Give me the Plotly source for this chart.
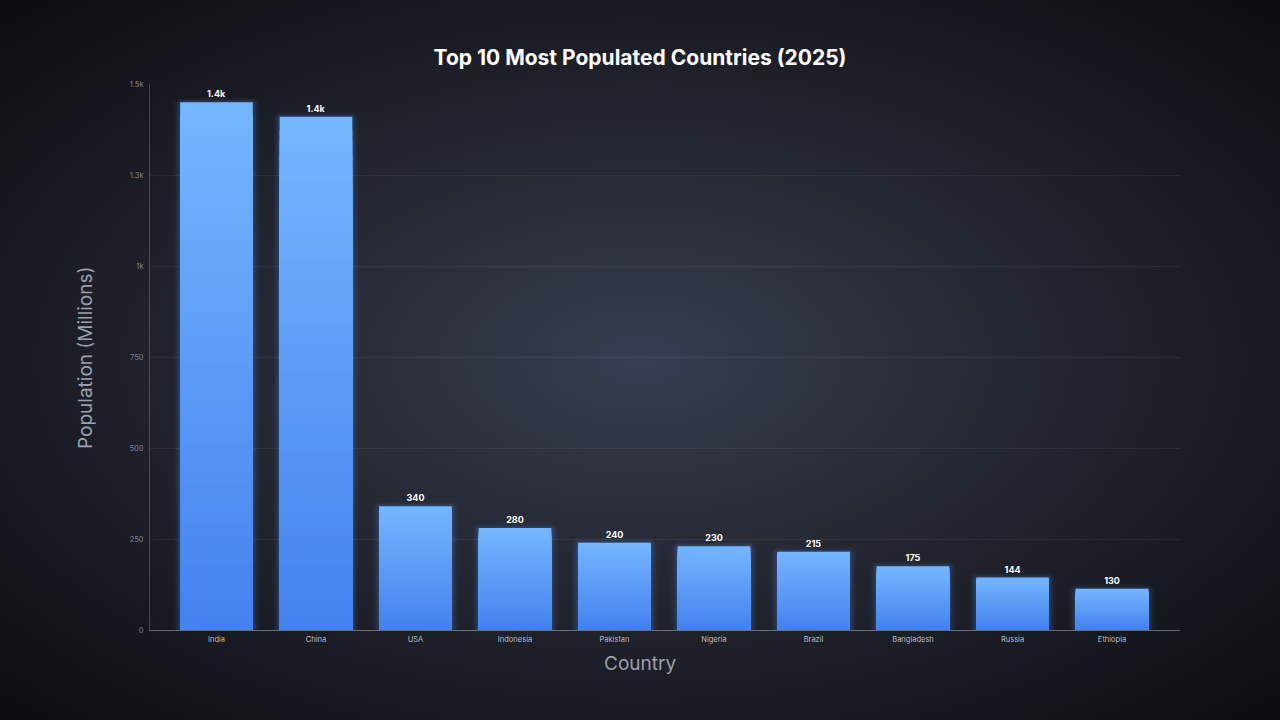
import base64
import plotly.graph_objects as go

countries = ["India", "China", "USA", "Indonesia", "Pakistan", "Nigeria",
             "Brazil", "Bangladesh", "Russia", "Ethiopia"]
population = [1450, 1410, 340, 280, 240, 230, 215, 175, 144, 113]
value_labels = ["1.4k", "1.4k", "340", "280", "240", "230", "215", "175", "144", "130"]
y_tick_vals = [0, 250, 500, 750, 1000, 1250, 1500]
y_tick_text = ["0", "250", "500", "750", "1k", "1.3k", "1.5k"]

W, H = 1280, 720
ML, MR, MT, MB = 150, 100, 84, 90
PW, PH = W - ML - MR, H - MT - MB

svg = f"""<svg xmlns='http://www.w3.org/2000/svg' width='{W}' height='{H}'>
<defs><radialGradient id='g' cx='50%' cy='50%' r='75%' gradientUnits='objectBoundingBox'>
<stop offset='0' stop-color='#383e50'/><stop offset='0.45' stop-color='#22252f'/>
<stop offset='1' stop-color='#090a0e'/></radialGradient></defs>
<rect width='{W}' height='{H}' fill='url(#g)'/></svg>"""
bg_src = "data:image/svg+xml;base64," + base64.b64encode(svg.encode()).decode()

fig = go.Figure()

# glow layers
for w, extra, a in [(0.87, 13, 0.035), (0.83, 9, 0.05), (0.80, 6, 0.07), (0.765, 2.5, 0.11)]:
    fig.add_trace(go.Bar(
        x=countries, y=[v + extra for v in population], width=w,
        marker=dict(color=f"rgba(80,150,255,{a})", line=dict(width=0), cornerradius=8),
        hoverinfo="skip", showlegend=False))

# gradient bars: stacked overlay bands
top = (116, 182, 255)
bot = (68, 130, 238)
N = 40
for k in range(N):
    f = 1 - k / N
    t = k / (N - 1)
    c = tuple(round(top[i] + (bot[i] - top[i]) * t) for i in range(3))
    kw = {}
    if k == 0:
        kw = dict(text=value_labels, textposition="outside", cliponaxis=False,
                  textfont=dict(family="Inter", size=9, color="#ffffff", weight="bold"))
    fig.add_trace(go.Bar(
        x=countries, y=[v * f for v in population], width=0.73,
        marker=dict(color=f"rgb{c}", line=dict(width=0), cornerradius=4 if k == 0 else 0),
        showlegend=False, hoverinfo="skip", **kw))

fig.update_layout(
    width=W, height=H, barmode="overlay",
    margin=dict(l=ML, r=MR, t=MT, b=MB),
    paper_bgcolor="#0f1016", plot_bgcolor="rgba(0,0,0,0)",
    font=dict(family="Inter", color="#9aa0ad"),
    images=[dict(source=bg_src, xref="paper", yref="paper",
                 x=-ML / PW, y=1 + MT / PH, sizex=W / PW, sizey=H / PH,
                 sizing="stretch", layer="below", xanchor="left", yanchor="top")],
    title=dict(text="Top 10 Most Populated Countries (2025)", x=0.5, xref="container",
               xanchor="center", y=1 - 58 / H, yref="container", yanchor="middle",
               font=dict(family="Inter", size=21, color="#ffffff", weight="bold")),
    xaxis=dict(showgrid=False, showline=True, linecolor="rgba(200,205,215,0.45)",
               linewidth=1, ticks="", tickfont=dict(size=7.5, color="#b8bcc6"),
               ticklabelstandoff=2, range=[-0.668, 9.683]),
    yaxis=dict(range=[0, 1500], tickvals=y_tick_vals, ticktext=y_tick_text,
               showgrid=True, gridcolor="rgba(255,255,255,0.06)", gridwidth=1,
               showline=True, linecolor="rgba(200,205,215,0.25)", linewidth=1,
               zeroline=False, ticks="", tickfont=dict(size=7.5, color="#7d828f"),
               ticklabelstandoff=4),
    annotations=[
        dict(text="Country", x=(640 - ML) / PW, y=(H - MB - 663) / PH,
             xref="paper", yref="paper", xanchor="center", yanchor="middle",
             showarrow=False, font=dict(family="Inter", size=19, color="#9aa0ad")),
        dict(text="Population (Millions)", x=(85 - ML) / PW, y=(H - MB - 358) / PH,
             xref="paper", yref="paper", xanchor="center", yanchor="middle",
             showarrow=False, textangle=-90,
             font=dict(family="Inter", size=19, color="#9aa0ad")),
    ],
)

fig.write_html("out.html", config={"displayModeBar": False},
               post_script="document.body.style.margin='0';")
